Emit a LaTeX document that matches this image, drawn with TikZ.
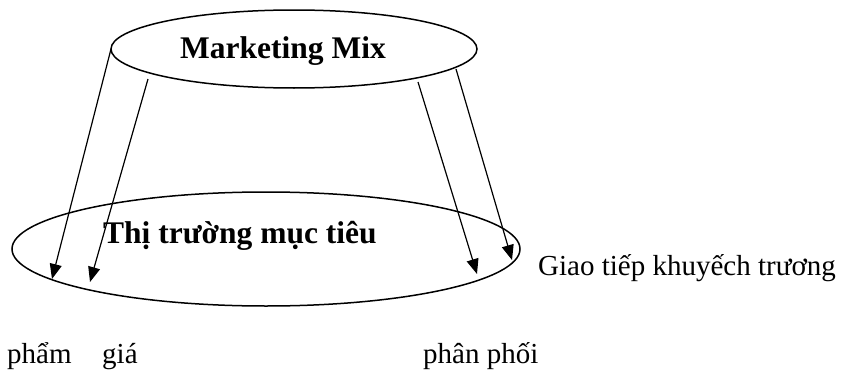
\documentclass[tikz,border=0pt]{standalone}
\usepackage{fontspec}
\setmainfont{Liberation Serif}
\usetikzlibrary{arrows.meta,shapes.geometric}
\begin{document}
\begin{tikzpicture}[x=1pt,y=-1pt,
  ell/.style={draw,ellipse,line width=1.5pt,inner sep=0pt},
  arr/.style={-{Triangle[length=15pt,width=12pt]},line width=1.2pt},
  lbl/.style={font=\fontsize{29}{33}\selectfont,inner sep=0pt,anchor=base west},
  ttl/.style={font=\bfseries\fontsize{31.5}{36}\selectfont,inner sep=0pt,anchor=base west}]
\useasboundingbox (0,0) rectangle (847,372);
\node[ell,minimum width=366pt,minimum height=78pt] (mm) at (294,49) {};
\node[ell,minimum width=508pt,minimum height=114pt] (tt) at (266,249) {};
\node[ttl] (mmt) at (180,58) {Marketing Mix};
\node[ttl] (ttt) at (103,243) {Thị trường mục tiêu};
\node[lbl] (gt) at (538,275) {Giao tiếp khuyếch trương};
\node[lbl] (sp) at (7,363) {phẩm};
\node[lbl] (gi) at (102,363) {giá};
\node[lbl] (pp) at (423,363) {phân phối};
\coordinate (s1) at (111,49);  \coordinate (e1) at (52,279);
\coordinate (s2) at (148,79);  \coordinate (e2) at (90,282);
\coordinate (s3) at (418,82);  \coordinate (e3) at (477,274);
\coordinate (s4) at (456,69);  \coordinate (e4) at (512,260);
\draw[arr] (s1) -- (e1);
\draw[arr] (s2) -- (e2);
\draw[arr] (s3) -- (e3);
\draw[arr] (s4) -- (e4);
\end{tikzpicture}
\end{document}
